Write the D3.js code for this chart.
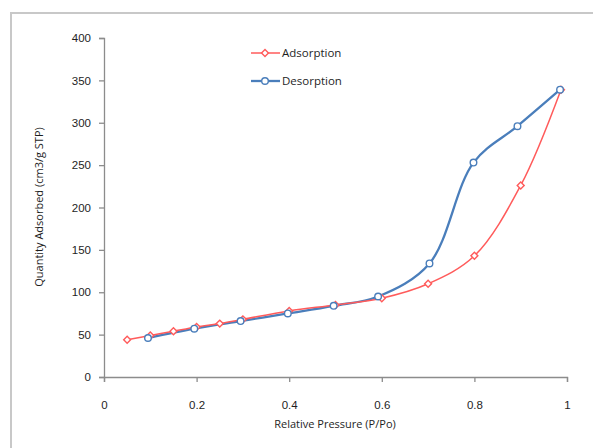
<!DOCTYPE html>
<html>
<head>
<meta charset="utf-8">
<script src="https://cdn.jsdelivr.net/npm/d3@7"></script>
<style>
  body { margin: 0; background: #fff; }
  svg { display: block; font-family: "Open Sans", "Liberation Sans", sans-serif; }
</style>
</head>
<body>
<svg id="chart"></svg>
<script>
// values
const adsX = [0.05, 0.10, 0.15, 0.20, 0.25, 0.30, 0.40, 0.50, 0.60, 0.70, 0.80, 0.90, 0.987];
const adsY = [44, 49, 54, 59, 63, 68, 78, 85, 93, 110, 143, 226, 339];
const desX = [0.095, 0.195, 0.295, 0.397, 0.496, 0.592, 0.703, 0.798, 0.893, 0.985];
const desY = [46, 57, 66, 75, 84, 95, 134, 253, 296, 339];
const xTicks = [0, 0.2, 0.4, 0.6, 0.8, 1];
const yTicks = [0, 50, 100, 150, 200, 250, 300, 350, 400];

const W = 593, H = 448;
const svg = d3.select('#chart').attr('width', W).attr('height', H);

// outer chart frame (runs off the right side in the reference)
svg.append('rect')
  .attr('x', 11).attr('y', 13).attr('width', 600).attr('height', 460)
  .attr('fill', 'none').attr('stroke', '#c8c8c8').attr('stroke-width', 2);

const x = d3.scaleLinear().domain([0, 1]).range([104, 567]);
const y = d3.scaleLinear().domain([0, 400]).range([377, 38]);

const axisColor = '#8c8c8c';
const textColor = '#1e1e1e';

// y axis
const gy = svg.append('g').attr('transform', 'translate(104,0)')
  .call(d3.axisLeft(y).tickValues(yTicks).tickSize(5).tickPadding(8).tickFormat(d3.format('d')));
// x axis
const gx = svg.append('g').attr('transform', 'translate(0,377)')
  .call(d3.axisBottom(x).tickValues(xTicks).tickSize(5).tickPadding(19).tickFormat(d => d));

[gx, gy].forEach(g => {
  g.select('.domain').attr('stroke', axisColor).attr('stroke-width', 1.3);
  g.selectAll('.tick line').attr('stroke', axisColor).attr('stroke-width', 1.3);
  g.selectAll('.tick text').attr('fill', textColor).attr('font-size', 11.5);
});

// axis titles
svg.append('text')
  .attr('x', 335).attr('y', 428)
  .attr('text-anchor', 'middle').attr('font-size', 11).attr('fill', textColor)
  .text('Relative Pressure (P/Po)');
svg.append('text')
  .attr('transform', 'translate(43,207) rotate(-90)')
  .attr('text-anchor', 'middle').attr('font-size', 11).attr('fill', textColor)
  .text('Quantity Adsorbed (cm3/g STP)');

const adsColor = '#ff5b5b', desColor = '#4a7ebb';

const adsData = adsX.map((v, i) => ({x: v, y: adsY[i]}));
const desData = desX.map((v, i) => ({x: v, y: desY[i]}));

const line = d3.line()
  .x(d => x(d.x)).y(d => y(d.y))
  .curve(d3.curveCatmullRom.alpha(0.5));

// desorption first so adsorption red shows through on the low end
svg.append('path').datum(desData)
  .attr('d', line).attr('fill', 'none')
  .attr('stroke', desColor).attr('stroke-width', 2.3);
svg.append('path').datum(adsData)
  .attr('d', line).attr('fill', 'none')
  .attr('stroke', adsColor).attr('stroke-width', 1.5);

// square turned 45deg -> even diamond like the Excel marker
const diamond = d3.symbol().type(d3.symbolSquare).size(24);

svg.append('g').selectAll('path.ads')
  .data(adsData).join('path')
  .attr('class', 'ads')
  .attr('transform', d => `translate(${x(d.x)},${y(d.y)}) rotate(45)`)
  .attr('d', diamond)
  .attr('fill', '#fff').attr('stroke', adsColor).attr('stroke-width', 1.4);

svg.append('g').selectAll('circle.des')
  .data(desData).join('circle')
  .attr('class', 'des')
  .attr('cx', d => x(d.x)).attr('cy', d => y(d.y)).attr('r', 3.3)
  .attr('fill', '#fff').attr('stroke', desColor).attr('stroke-width', 1.4);

// legend
const legend = [
  {name: 'Adsorption', color: adsColor, w: 1.5, mark: 'diamond', yy: 53},
  {name: 'Desorption', color: desColor, w: 2.3, mark: 'circle', yy: 81}
];
const lg = svg.append('g');
legend.forEach(l => {
  lg.append('line').attr('x1', 251).attr('x2', 280).attr('y1', l.yy).attr('y2', l.yy)
    .attr('stroke', l.color).attr('stroke-width', l.w);
  if (l.mark === 'diamond') {
    lg.append('path').attr('transform', `translate(265,${l.yy}) rotate(45)`).attr('d', diamond)
      .attr('fill', '#fff').attr('stroke', l.color).attr('stroke-width', 1.4);
  } else {
    lg.append('circle').attr('cx', 265).attr('cy', l.yy).attr('r', 3.3)
      .attr('fill', '#fff').attr('stroke', l.color).attr('stroke-width', 1.4);
  }
  lg.append('text').attr('x', 282).attr('y', l.yy + 4)
    .attr('font-size', 11.5).attr('fill', textColor).text(l.name);
});
</script>
</body>
</html>
